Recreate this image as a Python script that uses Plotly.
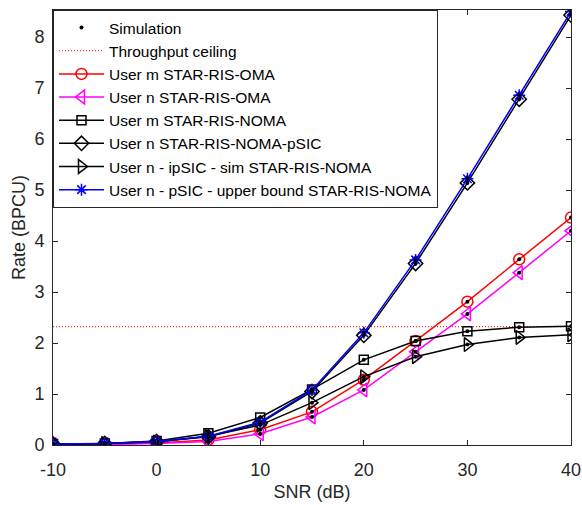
import plotly.graph_objects as go

snr = [-10, -5, 0, 5, 10, 15, 20, 25, 30, 35, 40]
x_ticks = [-10, 0, 10, 20, 30, 40]
x_tick_labels = ["-10", "0", "10", "20", "30", "40"]
y_ticks = [0, 1, 2, 3, 4, 5, 6, 7, 8]
ceiling = 2.32
m_oma = [0.01, 0.02, 0.04, 0.10, 0.30, 0.65, 1.28, 2.04, 2.81, 3.64, 4.46]
n_oma = [0.01, 0.01, 0.03, 0.07, 0.22, 0.55, 1.08, 1.83, 2.57, 3.38, 4.20]
m_noma = [0.02, 0.03, 0.08, 0.23, 0.54, 1.09, 1.67, 2.04, 2.23, 2.31, 2.33]
n_noma_psic = [0.02, 0.03, 0.07, 0.16, 0.43, 1.05, 2.15, 3.56, 5.14, 6.78, 8.43]
n_ipsic = [0.02, 0.03, 0.06, 0.17, 0.39, 0.83, 1.34, 1.73, 1.97, 2.11, 2.16]
n_psic_ub = [0.02, 0.03, 0.07, 0.17, 0.45, 1.08, 2.20, 3.63, 5.22, 6.86, 8.50]

FONT = "Liberation Sans, Arial, sans-serif"
AX = "#262626"
fig = go.Figure()

fig.add_trace(go.Scatter(x=[snr[0], snr[-1]], y=[ceiling, ceiling], mode="lines",
                         line=dict(color="red", width=1, dash="1px,2px"),
                         name="Throughput ceiling", legendrank=2))

series = [
    ("User m STAR-RIS-OMA", m_oma, "red", "circle-open", 11),
    ("User n STAR-RIS-OMA", n_oma, "magenta", "triangle-left-open", 12),
    ("User m STAR-RIS-NOMA", m_noma, "black", "square-open", 9),
    ("User n STAR-RIS-NOMA-pSIC", n_noma_psic, "black", "diamond-open", 11),
    ("User n - ipSIC - sim STAR-RIS-NOMA", n_ipsic, "black", "triangle-right-open", 12),
    ("User n - pSIC - upper bound STAR-RIS-NOMA", n_psic_ub, "blue", "asterisk-open", 10),
]
for i, (name, ys, col, sym, sz) in enumerate(series):
    fig.add_trace(go.Scatter(x=snr, y=ys, mode="lines+markers", name=name,
                             line=dict(color=col, width=1.5),
                             marker=dict(symbol=sym, size=sz, color=col,
                                         line=dict(color=col, width=1.5)),
                             legendrank=3 + i))

sim_x = []
sim_y = []
for _, ys, _, _, _ in series:
    sim_x += snr
    sim_y += ys
fig.add_trace(go.Scatter(x=sim_x, y=sim_y, mode="markers", name="Simulation",
                         marker=dict(symbol="circle", size=4, color="black"),
                         legendrank=1))

axis_common = dict(showline=True, linecolor=AX, linewidth=1, mirror="ticks",
                   ticks="inside", ticklen=5, tickcolor=AX, showgrid=False,
                   zeroline=False, automargin=False,
                   tickfont=dict(family=FONT, size=18, color=AX),
                   title_font=dict(family=FONT, size=18, color=AX))

fig.update_layout(
    width=582, height=505,
    margin=dict(l=53, r=11, t=10, b=60),
    plot_bgcolor="white", paper_bgcolor="white",
    font=dict(family=FONT, color="black"),
    xaxis=dict(range=[-10, 40], tickvals=x_ticks, ticktext=x_tick_labels,
               ticklabelstandoff=8,
               title=dict(text="SNR (dB)", standoff=6), **axis_common),
    yaxis=dict(range=[0, 8.53], tickvals=y_ticks,
               ticklabelstandoff=4,
               title=dict(text="Rate (BPCU)", standoff=4), **axis_common),
    legend=dict(x=0, y=1, xanchor="left", yanchor="top", bgcolor="white",
                bordercolor=AX, borderwidth=1,
                font=dict(family=FONT, size=15.5, color="black"),
                tracegroupgap=0, itemwidth=45),
    showlegend=True,
)

fig.write_html("out.html")
